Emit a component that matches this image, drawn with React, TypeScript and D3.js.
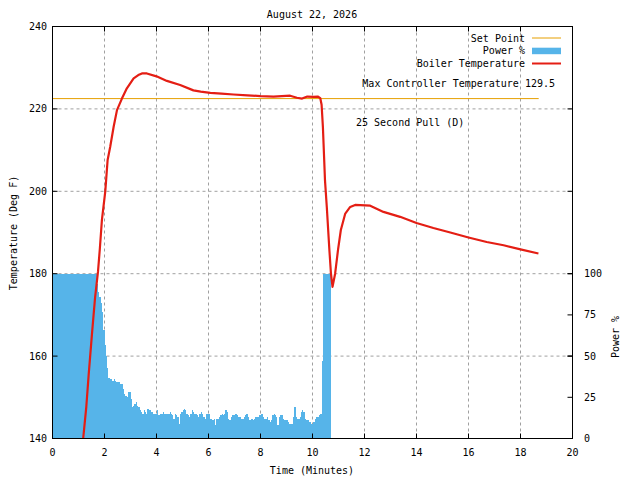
import React from "react";
import * as d3 from "d3";

const title = "August 22, 2026";
const xTicks = [0, 2, 4, 6, 8, 10, 12, 14, 16, 18, 20];
const yTicks = [140, 160, 180, 200, 220, 240];
const y2Ticks = [0, 25, 50, 75, 100];
const setPoint = 222.5;
const setPointEnd = 18.7;

// power % bins, 0.05 minute each, starting at 0
const powerStep = 0.05;
const power = [
  100, 100, 100, 100, 100, 100, 100, 100, 100, 100, 100, 100, 100, 100, 100, 100, 100, 100, 100, 100,
  100, 100, 100, 100, 100, 100, 100, 100, 100, 100, 100, 100, 100, 100, 94, 89, 86, 82, 77, 66,
  57, 50, 43, 37, 36, 36, 35, 36, 35, 34, 34, 34, 33, 33, 30, 27, 26, 25, 28, 28,
  24, 19, 20, 21, 22, 20, 19, 17, 16, 15, 17, 16, 15, 18, 17, 17, 16, 15, 15, 15,
  17, 14, 14, 15, 15, 16, 15, 15, 15, 15, 16, 15, 14, 12, 15, 14, 13, 9, 15, 16,
  17, 18, 17, 15, 14, 13, 15, 17, 16, 15, 15, 14, 13, 15, 16, 15, 13, 12, 15, 15,
  15, 12, 12, 11, 12, 8, 12, 12, 13, 14, 15, 14, 15, 17, 16, 12, 11, 13, 14, 14,
  15, 15, 14, 13, 13, 12, 12, 13, 14, 15, 13, 11, 11, 12, 11, 12, 13, 13, 13, 14,
  15, 15, 13, 12, 12, 13, 11, 10, 11, 14, 15, 14, 13, 8, 13, 14, 14, 12, 11, 11,
  11, 10, 9, 9, 9, 13, 19, 13, 12, 12, 13, 16, 17, 16, 12, 11, 11, 10, 10, 9,
  10, 10, 12, 13, 13, 14, 15, 47, 100, 100, 100, 100, 100, 100,
];

const tempTime = [
  1.1, 1.18, 1.3, 1.39, 1.52, 1.64, 1.75, 1.82, 1.9, 2.03, 2.12, 2.22, 2.35, 2.48, 2.67, 2.86,
  3.12, 3.3, 3.44, 3.63, 4.0, 4.4, 4.91, 5.42, 5.7, 6.07, 6.5, 6.96, 7.5, 8.0, 8.5, 9.14, 9.4,
  9.6, 9.8, 10.04, 10.2, 10.3, 10.35, 10.4, 10.45, 10.48, 10.55, 10.65, 10.71, 10.77, 10.87,
  10.98, 11.09, 11.26, 11.45, 11.64, 12.22, 12.73, 13.37, 14.0, 14.65, 15.3, 16.0, 16.7, 17.35,
  18.0, 18.69,
];
const tempValue = [
  136, 140, 147.7, 155.4, 165.5, 174.4, 180.5, 186, 193, 200, 207.6, 210.8, 215.6, 219.7, 222.5,
  225.0, 227.4, 228.2, 228.6, 228.6, 227.9, 226.8, 225.8, 224.5, 224.2, 223.9, 223.7, 223.5,
  223.3, 223.1, 223.0, 223.2, 222.7, 222.5, 223.0, 222.9, 223.0, 222.6, 221, 215.6, 207.6,
  202.7, 196.2, 185.7, 180, 176.8, 180, 185.7, 190.6, 194.6, 196.2, 196.7, 196.5, 195, 193.8,
  192.3, 191.1, 190, 188.8, 187.7, 186.9, 185.9, 184.9,
];

const legendLabels = ["Set Point", "Power %", "Boiler Temperature"];
const note1 = "Max Controller Temperature 129.5";
const note2 = "25 Second Pull (D)";

const FONT = "'DejaVu Sans Mono', 'Liberation Mono', monospace";
const RED = "#e41e14";
const ORANGE = "#e69f00";
const BLUE = "#56b4e9";

export default function App() {
  const L = 52.5, R = 572.5, T = 26.5, B = 438.5;
  const x = d3.scaleLinear().domain([0, 20]).range([L, R]);
  const y = d3.scaleLinear().domain([140, 240]).range([B, T]);
  const y2 = d3.scaleLinear().domain([0, 250]).range([B, T]);

  // step outline of the power bins, merging runs of equal value
  const powerPts: [number, number][] = [];
  power.forEach((p, i) => {
    if (i === 0 || p !== power[i - 1]) powerPts.push([i * powerStep, p]);
  });
  powerPts.push([power.length * powerStep, power[power.length - 1]]);
  const area = d3
    .area<[number, number]>()
    .x((d) => Math.round(x(d[0])))
    .y0(B + 0.5)
    .y1((d) => Math.round(y2(d[1])))
    .curve(d3.curveStepAfter);

  const line = d3
    .line<number>()
    .x((_, i) => x(tempTime[i]))
    .y((d) => y(d));

  const gridDash = "3,3";
  return (
    <svg
      width={640}
      height={480}
      style={{ position: "absolute", left: 0, top: 0, background: "#fff" }}
      fontFamily={FONT}
      fontSize={10}
    >
      <defs>
        <clipPath id="plot">
          <rect x={L} y={T} width={R - L} height={B - T} />
        </clipPath>
      </defs>
      <rect x={0} y={0} width={640} height={480} fill="#fff" />
      {/* grid */}
      {xTicks.slice(1, -1).map((t) => (
        <line key={"gx" + t} x1={x(t)} x2={x(t)} y1={T} y2={B} stroke="#a0a0a0" strokeDasharray={gridDash} />
      ))}
      {yTicks.slice(1, -1).map((t) => (
        <line key={"gy" + t} x1={L} x2={R} y1={y(t)} y2={y(t)} stroke="#a0a0a0" strokeDasharray={gridDash} />
      ))}
      {/* power */}
      <path d={area(powerPts) || ""} fill={BLUE} stroke="none" />
      {/* set point */}
      <line x1={x(0)} x2={x(setPointEnd)} y1={y(setPoint)} y2={y(setPoint)} stroke={ORANGE} strokeWidth={1} />
      {/* temperature */}
      <path
        d={line(tempValue) || ""}
        fill="none"
        stroke={RED}
        strokeWidth={2.2}
        strokeLinejoin="round"
        clipPath="url(#plot)"
      />
      {/* border */}
      <rect x={L} y={T} width={R - L} height={B - T} fill="none" stroke="#000" strokeWidth={1} />
      {/* ticks */}
      {xTicks.map((t) => (
        <g key={"tx" + t}>
          <line x1={x(t)} x2={x(t)} y1={B} y2={B - 5} stroke="#000" />
          <line x1={x(t)} x2={x(t)} y1={T} y2={T + 5} stroke="#000" />
          <text x={x(t)} y={452} textAnchor="middle" dominantBaseline="central">
            {t}
          </text>
        </g>
      ))}
      {yTicks.map((t) => (
        <g key={"ty" + t}>
          <line x1={L} x2={L + 5} y1={y(t)} y2={y(t)} stroke="#000" />
          <line x1={R} x2={R - 5} y1={y(t)} y2={y(t)} stroke="#000" />
          <text x={47} y={y(t)} textAnchor="end" dominantBaseline="central">
            {t}
          </text>
        </g>
      ))}
      {y2Ticks.map((t) => (
        <g key={"ty2" + t}>
          <line x1={R} x2={R - 5} y1={y2(t)} y2={y2(t)} stroke="#000" />
          <text x={584} y={y2(t)} textAnchor="start" dominantBaseline="central">
            {t}
          </text>
        </g>
      ))}
      {/* labels */}
      <text x={312} y={14} textAnchor="middle" dominantBaseline="central">
        {title}
      </text>
      <text x={312} y={470} textAnchor="middle" dominantBaseline="central">
        Time (Minutes)
      </text>
      <text
        x={0}
        y={0}
        transform={`translate(13,233) rotate(-90)`}
        textAnchor="middle"
        dominantBaseline="central"
      >
        Temperature (Deg F)
      </text>
      <text
        x={0}
        y={0}
        transform={`translate(615,337) rotate(-90)`}
        textAnchor="middle"
        dominantBaseline="central"
      >
        Power %
      </text>
      {/* legend */}
      {legendLabels.map((lab, i) => (
        <text key={lab} x={525} y={38 + i * 12.8} textAnchor="end" dominantBaseline="central">
          {lab}
        </text>
      ))}
      <line x1={532} x2={561} y1={38} y2={38} stroke={ORANGE} strokeWidth={1} />
      <rect x={532} y={47.7} width={29} height={6.5} fill={BLUE} />
      <line x1={532} x2={561} y1={63.5} y2={63.5} stroke={RED} strokeWidth={2} />
      <text x={555} y={83} textAnchor="end" dominantBaseline="central">
        {note1}
      </text>
      <text x={356} y={122} textAnchor="start" dominantBaseline="central">
        {note2}
      </text>
    </svg>
  );
}
